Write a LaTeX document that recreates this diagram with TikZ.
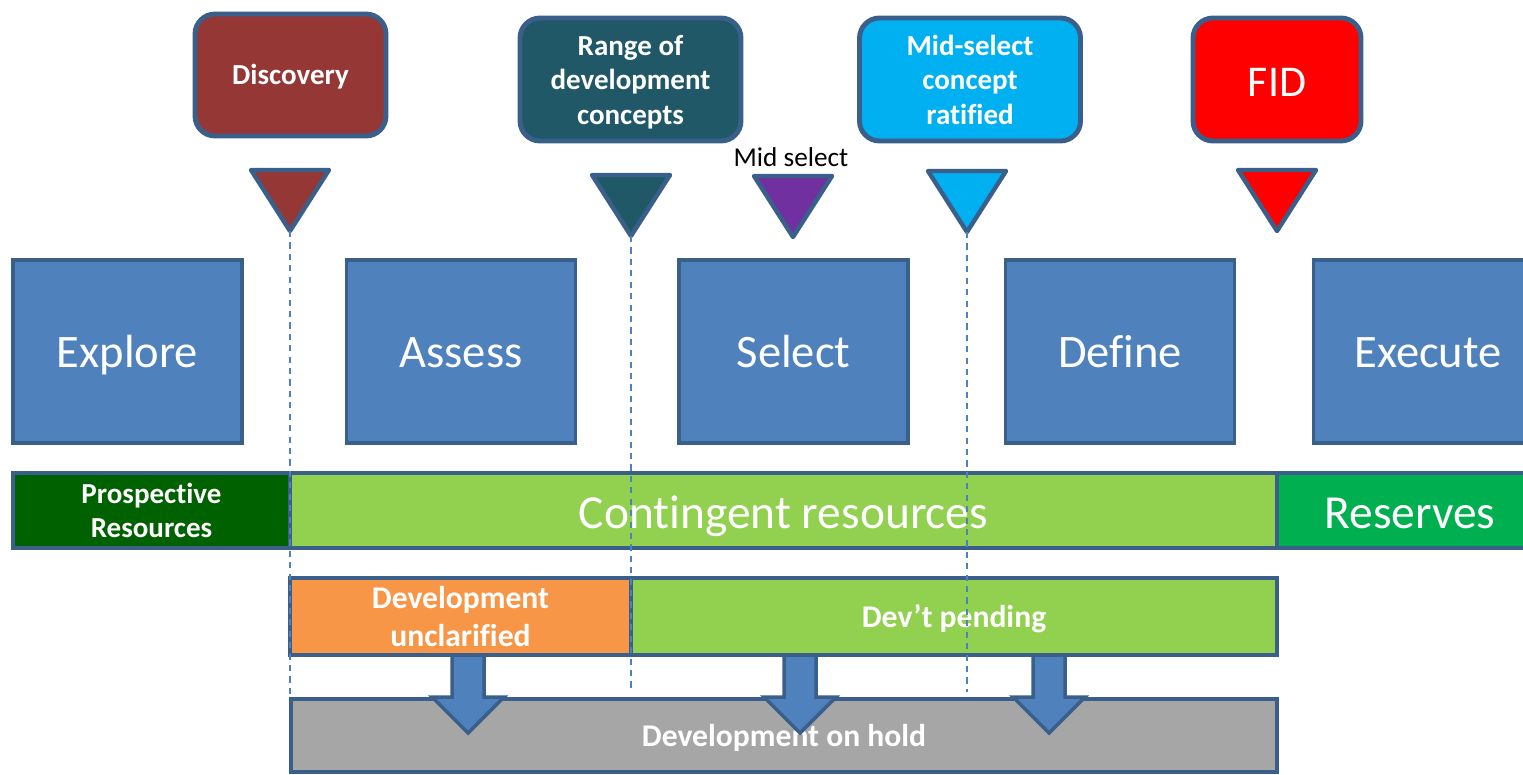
\documentclass[tikz,border=0pt]{standalone}
\usepackage{fontspec}
\setmainfont{Carlito}[Ligatures=NoCommon]
\definecolor{edge}{HTML}{3A5F8B}
\definecolor{phaseblue}{HTML}{4F81BD}
\definecolor{discred}{HTML}{953735}
\definecolor{rangeteal}{HTML}{215868}
\definecolor{midcyan}{HTML}{00B0F0}
\definecolor{midpurple}{HTML}{7030A0}
\definecolor{fidred}{HTML}{FF0000}
\definecolor{prospgreen}{HTML}{006100}
\definecolor{contgreen}{HTML}{92D050}
\definecolor{resgreen}{HTML}{00B050}
\definecolor{unclorange}{HTML}{F79646}
\definecolor{holdgrey}{HTML}{A6A6A6}
\tikzset{>=stealth,
  oneline/.style={text height=#1, text depth=0.3pt},
  callout/.style={draw=edge, line width=2.8pt, rounded corners=0.4cm, text=white, align=center,
    font=\fontsize{16.5}{19.6}\selectfont\bfseries, minimum width=4.42cm, minimum height=2.46cm,
    text depth=-2.4pt},
  phase/.style={draw=edge, line width=1.8pt, fill=phaseblue, text=white, oneline=19pt,
    font=\fontsize{26.5}{30}\selectfont, minimum width=4.58cm, minimum height=3.66cm},
  band/.style={draw=edge, line width=2.2pt, text=white, align=center, minimum height=1.5cm,
    font=\fontsize{16.5}{19.6}\selectfont\bfseries, text depth=0.3pt},
  lowband/.style={band, font=\fontsize{18}{21.5}\selectfont\bfseries},
  bigband/.style={band, oneline=20.5pt, font=\fontsize{27}{30}\selectfont},
  marker/.style={draw=edge, line width=2.5pt, line join=round},
  guide/.style={draw=phaseblue, line width=0.7pt, dash pattern=on 3.5pt off 3pt},
  blockarrow/.style={draw=edge, line width=2pt, fill=phaseblue, line join=miter}
}

\begin{document}
\begin{tikzpicture}[x=0.02cm, y=-0.02cm]
    \useasboundingbox (0,0) rectangle (1523,774);
    % decision gates
    \node[callout, oneline=11.6pt, fill=discred, minimum width=3.82cm, minimum height=2.44cm] (discovery) at (290.5,75) {Discovery};
    \node[callout, fill=rangeteal] (range) at (630.5,79.5) {Range of\\development\\concepts};
    \node[callout, fill=midcyan] (ratified) at (970,79.5) {Mid-select\\concept\\ratified};
    \node[callout, oneline=20pt, fill=fidred, minimum width=3.36cm, font=\fontsize{25}{30}\selectfont] (fid) at (1277,79.5) {FID};
    \node[font=\fontsize{15.5}{18}\selectfont] (midlabel) at (791,157) {Mid select};
    \foreach \n/\x/\y/\c in {tdisc/290/231/discred, trange/631/236/rangeteal, tmid/793/237/midpurple,
        tratified/967/232/midcyan, tfid/1277/231/fidred}
        \draw[marker, fill=\c] (\x,\y) coordinate (\n) -- ++(-39,-61) -- ++(78,0) -- cycle;

    % phases
    \node[phase] (explore) at (127.5,351.5) {Explore};
    \node[phase] (assess) at (461,351.5) {Assess};
    \node[phase] (select) at (793.5,351.5) {Select};
    \node[phase] (define) at (1120,351.5) {Define};
    \node[phase] (execute) at (1428,351.5) {Execute};

    % resource classes
    \node[band, fill=prospgreen, minimum width=5.54cm] (prospective) at (151.5,510.5) {Prospective\\Resources};
    \node[bigband, fill=contgreen, minimum width=19.74cm] (contingent) at (783.5,510.5) {Contingent resources};
    \node[bigband, fill=resgreen, minimum width=5.32cm] (reserves) at (1410,510.5) {Reserves};

    \node[lowband, fill=unclorange, minimum width=6.82cm, minimum height=1.54cm] (unclarified) at (460.5,616.5) {Development\\unclarified};
    \node[lowband, oneline=12.3pt, fill=contgreen, minimum width=12.92cm, minimum height=1.54cm] (pending) at (954,616.5) {Dev’t pending};
    \node[lowband, oneline=13.3pt, fill=holdgrey, minimum width=19.72cm, minimum height=1.46cm] (hold) at (784,735.5) {Development on hold};

    % block arrows
    \foreach \x in {468,800,1049}
        \draw[blockarrow] (\x-16,655) -- (\x-16,697) -- (\x-36,697) -- (\x,733) -- (\x+36,697)
            -- (\x+16,697) -- (\x+16,655) -- cycle;

    % guide lines
    \draw[guide] (tdisc) -- (tdisc |- hold.north);
    \draw[guide] (trange) -- ([yshift=3pt]trange |- hold.north);
    \draw[guide] (tratified) -- ([yshift=3pt]tratified |- hold.north);
\end{tikzpicture}
\end{document}
